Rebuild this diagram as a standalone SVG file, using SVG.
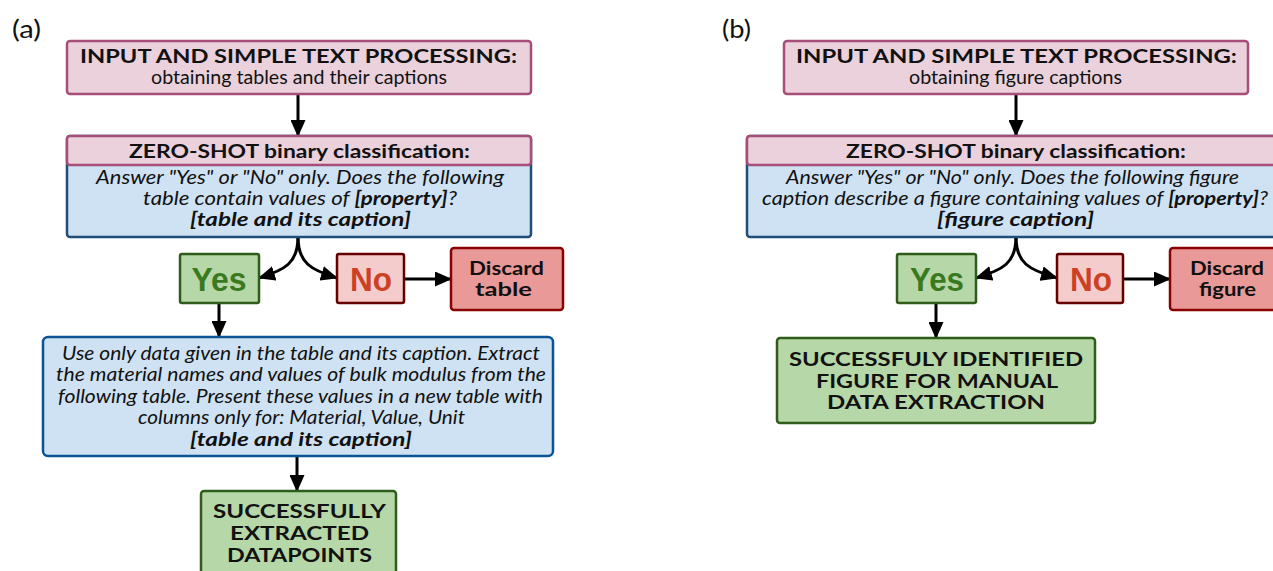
<svg xmlns="http://www.w3.org/2000/svg" width="1273" height="571" viewBox="0 0 1273 571">
<defs>
<marker id="ah" markerUnits="userSpaceOnUse" markerWidth="17" markerHeight="15" refX="16" refY="7.5" orient="auto">
<path d="M0,0 L17,7.5 L0,15 Z" fill="#000"/>
</marker>
<style>
text{font-family:Lato,"Open Sans","DejaVu Sans",sans-serif;fill:#111;text-anchor:middle}
.pink{fill:#ead1dc;stroke:#a64d79;stroke-width:2.5}
.blue{fill:#cfe2f3;stroke:#1f4e79;stroke-width:2.5}
.blue2{fill:#cfe2f3;stroke:#0b5394;stroke-width:2.5}
.green{fill:#b6d7a8;stroke:#2f5c1a;stroke-width:2.5}
.no{fill:#f4cccc;stroke:#660000;stroke-width:2.5}
.disc{fill:#ea9999;stroke:#8b0000;stroke-width:2.5}
.t{font-weight:bold;font-size:19.5px}
.s{font-size:18.5px}
.i{font-style:italic;font-size:18.5px}
.ib{font-style:italic;font-weight:bold}
.yes{font-family:"Liberation Sans",Arial,sans-serif;font-weight:bold;font-size:34px;fill:#3a7a1f}
.not{font-family:"Liberation Sans",Arial,sans-serif;font-weight:bold;font-size:34px;fill:#cc4125}
.d{font-weight:bold;font-size:18.5px}
.g{font-weight:bold;font-size:19px}
.lab{font-size:25px}
.c{fill:none;stroke:#000;stroke-width:3;marker-end:url(#ah)}
</style>
</defs>

<text class="lab" x="26.5" y="38" textLength="29" lengthAdjust="spacingAndGlyphs">(a)</text>
<text class="lab" x="736.5" y="38" textLength="29" lengthAdjust="spacingAndGlyphs">(b)</text>

<g id="connectors">
<path class="c" d="M298,94 L298,136"/>
<path class="c" d="M298,237 C298,263 285,270 259,278"/>
<path class="c" d="M298,237 C298,263 311,270 337,278"/>
<path class="c" d="M404,279 L451,279"/>
<path class="c" d="M219,303 L219,337"/>
<path class="c" d="M297,456 L297,491"/>
<path class="c" d="M1016,94 L1016,136"/>
<path class="c" d="M1016,237 C1016,263 1003,270 976,278"/>
<path class="c" d="M1016,237 C1016,263 1029,270 1057,278"/>
<path class="c" d="M1123,279 L1170,279"/>
<path class="c" d="M936,303 L936,338"/>
</g>

<g id="a-input">
<rect class="pink" x="67" y="41" width="464" height="53" rx="3"/>
<text class="t" x="298.5" y="63" textLength="437" lengthAdjust="spacingAndGlyphs">INPUT AND SIMPLE TEXT PROCESSING:</text>
<text class="s" x="299" y="84" textLength="296" lengthAdjust="spacingAndGlyphs">obtaining tables and their captions</text>
</g>

<g id="a-zeroshot">
<rect class="blue" x="67" y="136" width="464" height="101" rx="3"/>
<rect class="pink" x="67" y="136" width="464" height="29" rx="3"/>
<text class="t" x="299.5" y="158" textLength="341" lengthAdjust="spacingAndGlyphs">ZERO-SHOT binary classification:</text>
<text class="i" x="300" y="184" textLength="408" lengthAdjust="spacingAndGlyphs">Answer "Yes" or "No" only. Does the following</text>
<text class="i" x="300" y="205" textLength="314" lengthAdjust="spacingAndGlyphs">table contain values of <tspan class="ib">[property]</tspan>?</text>
<text class="i ib" x="300.5" y="226" textLength="221" lengthAdjust="spacingAndGlyphs">[table and its caption]</text>
</g>

<g id="a-yes">
<rect class="green" x="180" y="254" width="79" height="49" rx="2"/>
<text class="yes" x="219" y="291" textLength="55" lengthAdjust="spacingAndGlyphs">Yes</text>
</g>

<g id="a-no">
<rect class="no" x="337" y="254" width="67" height="49" rx="2"/>
<text class="not" x="371" y="291" textLength="42" lengthAdjust="spacingAndGlyphs">No</text>
</g>

<g id="a-discard">
<rect class="disc" x="451" y="248" width="112" height="62" rx="3"/>
<text class="d" x="506.5" y="275" textLength="75" lengthAdjust="spacingAndGlyphs">Discard</text>
<text class="d" x="503.5" y="296" textLength="57" lengthAdjust="spacingAndGlyphs">table</text>
</g>

<g id="a-extract">
<rect class="blue2" x="43" y="337" width="510" height="119" rx="5"/>
<text class="i" x="301" y="360" textLength="478" lengthAdjust="spacingAndGlyphs">Use only data given in the table and its caption. Extract</text>
<text class="i" x="301" y="381" textLength="490" lengthAdjust="spacingAndGlyphs">the material names and values of bulk modulus from the</text>
<text class="i" x="300.5" y="403" textLength="485" lengthAdjust="spacingAndGlyphs">following table. Present these values in a new table with</text>
<text class="i" x="301.5" y="424" textLength="327" lengthAdjust="spacingAndGlyphs">columns only for: Material, Value, Unit</text>
<text class="i ib" x="301" y="446" textLength="222" lengthAdjust="spacingAndGlyphs">[table and its caption]</text>
</g>

<g id="a-success">
<rect class="green" x="201" y="491" width="195" height="90" rx="3"/>
<text class="g" x="299.5" y="518" textLength="173" lengthAdjust="spacingAndGlyphs">SUCCESSFULLY</text>
<text class="g" x="299.5" y="540" textLength="139" lengthAdjust="spacingAndGlyphs">EXTRACTED</text>
<text class="g" x="299.5" y="562" textLength="145" lengthAdjust="spacingAndGlyphs">DATAPOINTS</text>
</g>

<g id="b-input">
<rect class="pink" x="784" y="41" width="464" height="53" rx="3"/>
<text class="t" x="1016.5" y="63" textLength="441" lengthAdjust="spacingAndGlyphs">INPUT AND SIMPLE TEXT PROCESSING:</text>
<text class="s" x="1015.5" y="84" textLength="213" lengthAdjust="spacingAndGlyphs">obtaining figure captions</text>
</g>

<g id="b-zeroshot">
<rect class="blue" x="747" y="136" width="540" height="101" rx="3"/>
<rect class="pink" x="747" y="136" width="540" height="29" rx="3"/>
<text class="t" x="1016" y="158" textLength="340" lengthAdjust="spacingAndGlyphs">ZERO-SHOT binary classification:</text>
<text class="i" x="1012.5" y="184" textLength="453" lengthAdjust="spacingAndGlyphs">Answer "Yes" or "No" only. Does the following figure</text>
<text class="i" x="1015" y="205" textLength="506" lengthAdjust="spacingAndGlyphs">caption describe a figure containing values of <tspan class="ib">[property]</tspan>?</text>
<text class="i ib" x="1015.5" y="226" textLength="157" lengthAdjust="spacingAndGlyphs">[figure caption]</text>
</g>

<g id="b-yes">
<rect class="green" x="897" y="254" width="79" height="49" rx="2"/>
<text class="yes" x="937" y="291" textLength="54" lengthAdjust="spacingAndGlyphs">Yes</text>
</g>

<g id="b-no">
<rect class="no" x="1057" y="254" width="66" height="49" rx="2"/>
<text class="not" x="1091" y="291" textLength="42" lengthAdjust="spacingAndGlyphs">No</text>
</g>

<g id="b-discard">
<rect class="disc" x="1170" y="248" width="112" height="62" rx="3"/>
<text class="d" x="1227" y="275" textLength="74" lengthAdjust="spacingAndGlyphs">Discard</text>
<text class="d" x="1227.5" y="296" textLength="57" lengthAdjust="spacingAndGlyphs">figure</text>
</g>

<g id="b-success">
<rect class="green" x="777" y="338" width="318" height="85" rx="3"/>
<text class="g" x="936" y="366" textLength="294" lengthAdjust="spacingAndGlyphs">SUCCESSFULY IDENTIFIED</text>
<text class="g" x="937" y="388" textLength="242" lengthAdjust="spacingAndGlyphs">FIGURE FOR MANUAL</text>
<text class="g" x="936" y="409" textLength="218" lengthAdjust="spacingAndGlyphs">DATA EXTRACTION</text>
</g>
</svg>
